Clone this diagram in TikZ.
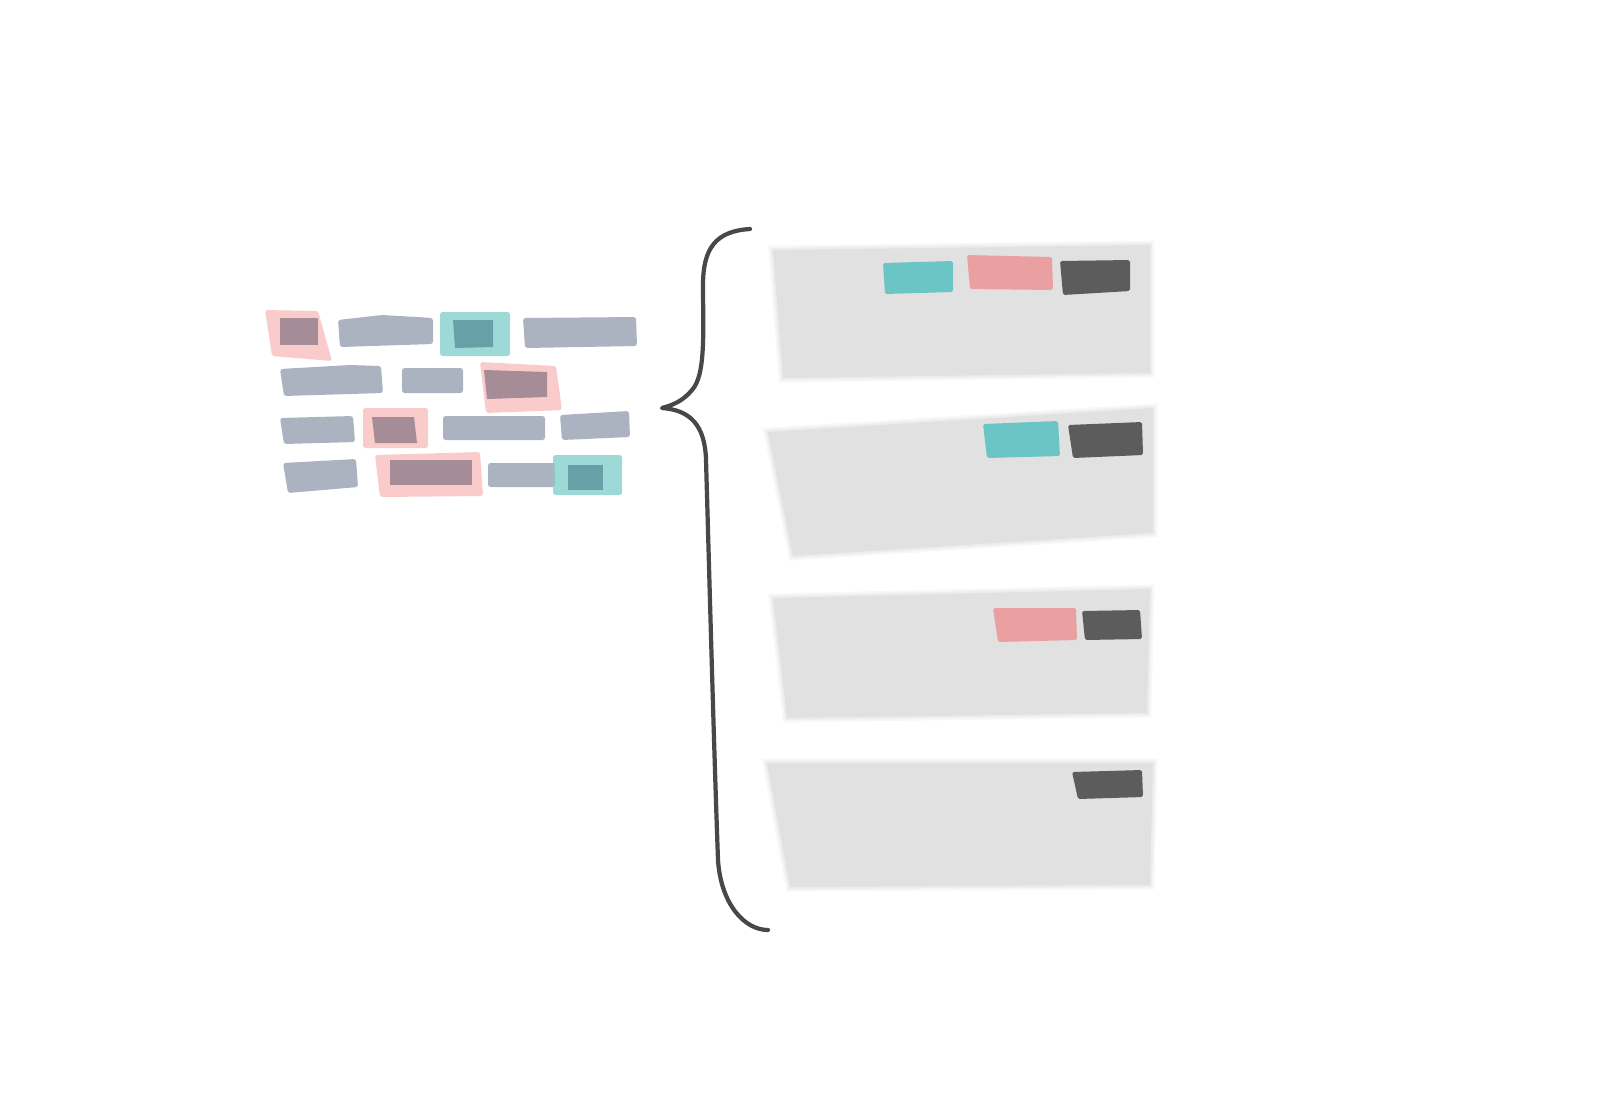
\documentclass[tikz,border=0pt]{standalone}
\usetikzlibrary{positioning}

\definecolor{slate}{RGB}{148,156,174}
\definecolor{padpink}{RGB}{246,168,168}
\definecolor{padteal}{RGB}{132,208,204}
\definecolor{innerteal}{RGB}{92,152,158}
\definecolor{innerpink}{RGB}{150,130,142}
\definecolor{panelgray}{RGB}{225,225,225}
\definecolor{tagteal}{RGB}{108,197,197}
\definecolor{tagpink}{RGB}{234,160,160}
\definecolor{tagdark}{RGB}{92,92,92}
\definecolor{braceink}{RGB}{72,72,72}

\tikzset{
  graybar/.style   = {fill=slate, fill opacity=0.78, rounded corners=1.5},
  pinkpad/.style   = {fill=padpink, fill opacity=0.6, rounded corners=1.5},
  tealpad/.style   = {fill=padteal, fill opacity=0.8, rounded corners=1.5},
  pinkcore/.style  = {fill=innerpink, fill opacity=0.85},
  tealcore/.style  = {fill=innerteal, fill opacity=0.85},
  panel/.style     = {fill=panelgray, line join=round,
                      preaction={draw=panelgray, draw opacity=0.25, line width=5pt},
                      preaction={draw=panelgray, draw opacity=0.45, line width=2.5pt}},
  tealtag/.style   = {fill=tagteal, rounded corners=1},
  pinktag/.style   = {fill=tagpink, rounded corners=1},
  darktag/.style   = {fill=tagdark, rounded corners=1},
  bracepath/.style = {draw=braceink, line width=2.4pt, line cap=round, line join=round}
}

\begin{document}
\begin{tikzpicture}[x=0.2mm, y=-0.2mm]
        \useasboundingbox (0,0) rectangle (1600,1118);

        % Left cluster, row 1
        \fill[pinkpad]  (265,310) -- (318,311) -- (332,361) -- (272,356) -- cycle;
        \fill[pinkcore] (280,318) rectangle (318,345);
        \fill[graybar]  (338,320) -- (382,315) -- (433,318) -- (433,344) -- (340,347) -- cycle;
        \fill[tealpad]  (440,312) rectangle (510,356);
        \fill[tealcore] (453,320) -- (493,320) -- (493,347) -- (455,348) -- cycle;
        \fill[graybar]  (523,318) -- (636,317) -- (637,346) -- (525,348) -- cycle;

        % Left cluster, row 2
        \fill[graybar]  (280,369) -- (350,365) -- (381,366) -- (383,393) -- (284,396) -- cycle;
        \fill[graybar]  (402,368) rectangle (463,393);
        \fill[pinkpad]  (480,362) -- (556,366) -- (562,410) -- (486,413) -- cycle;
        \fill[pinkcore] (484,370) -- (547,372) -- (547,397) -- (487,399) -- cycle;

        % Left cluster, row 3
        \fill[graybar]  (280,418) -- (353,416) -- (355,442) -- (284,444) -- cycle;
        \fill[pinkpad]  (363,408) rectangle (428,448);
        \fill[pinkcore] (372,417) -- (414,417) -- (417,443) -- (375,443) -- cycle;
        \fill[graybar]  (443,416) rectangle (545,440);
        \fill[graybar]  (560,415) -- (629,411) -- (630,437) -- (562,440) -- cycle;

        % Left cluster, row 4
        \fill[graybar]  (283,463) -- (356,459) -- (358,487) -- (288,493) -- cycle;
        \fill[pinkpad]  (375,455) -- (480,452) -- (483,496) -- (380,497) -- cycle;
        \fill[pinkcore] (390,460) rectangle (472,485);
        \fill[graybar]  (488,463) rectangle (555,487);
        \fill[tealpad]  (553,455) rectangle (622,495);
        \fill[tealcore] (568,465) rectangle (603,490);

        % Brace
        \draw[bracepath] (750,229) .. controls (716,231) and (703,248) .. (703,285)
            .. controls (703,330) and (706,375) .. (692,390)
            .. controls (683,401) and (673,405) .. (662,408)
            .. controls (690,410) and (705,425) .. (706,460)
            .. controls (710,600) and (714,750) .. (718,860)
            .. controls (721,905) and (745,930) .. (768,930);

        % Panels
        \path[panel] (773,250) -- (1150,245) -- (1150,373) -- (783,378) -- cycle;
        \path[panel] (768,432) -- (1153,408) -- (1153,533) -- (793,556) -- cycle;
        \path[panel] (773,598) -- (1150,589) -- (1147,713) -- (787,718) -- cycle;
        \path[panel] (767,763) -- (1153,763) -- (1150,885) -- (790,887) -- cycle;

        % Tags on panels
        \fill[tealtag] (883,263) -- (953,261) -- (953,292) -- (885,294) -- cycle;
        \fill[pinktag] (967,255) -- (1052,257) -- (1053,290) -- (970,289) -- cycle;
        \fill[darktag] (1060,261) -- (1130,260) -- (1130,291) -- (1063,295) -- cycle;

        \fill[tealtag] (983,424) -- (1058,421) -- (1060,456) -- (987,458) -- cycle;
        \fill[darktag] (1068,425) -- (1142,422) -- (1143,455) -- (1073,458) -- cycle;

        \fill[pinktag] (993,608) -- (1076,608) -- (1077,640) -- (998,642) -- cycle;
        \fill[darktag] (1082,611) -- (1140,610) -- (1142,639) -- (1085,640) -- cycle;

        \fill[darktag] (1072,772) -- (1142,770) -- (1143,797) -- (1078,799) -- cycle;
    \end{tikzpicture}
\end{document}
